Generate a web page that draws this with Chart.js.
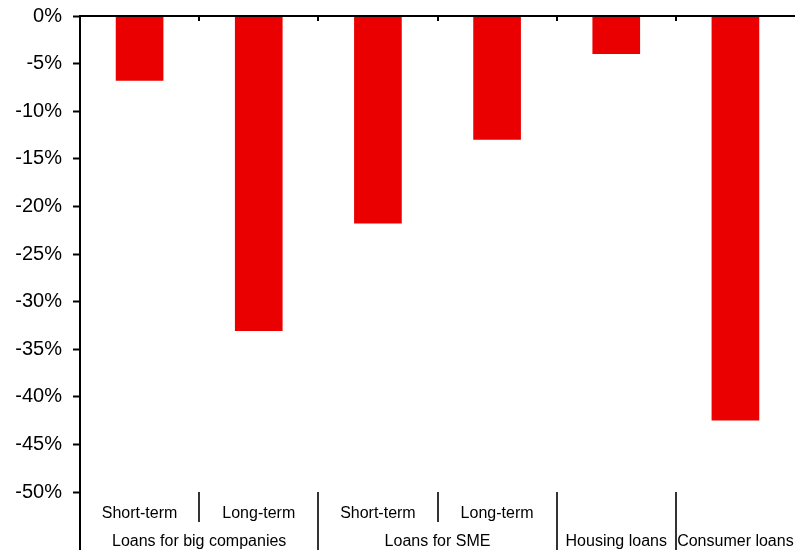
<!DOCTYPE html>
<html>
<head>
<meta charset="utf-8">
<script src="https://cdn.jsdelivr.net/npm/chart.js@4.4.1/dist/chart.umd.min.js"></script>
<style>
  html, body { margin: 0; padding: 0; background: #fff; }
  #wrap { width: 795px; height: 550px; }
</style>
</head>
<body>
<div id="wrap"><canvas id="c" width="795" height="550"></canvas></div>
<script>
// Loan categories: sub-label (term) and the loan group each bar belongs to
const subLabels = ['Short-term', 'Long-term', 'Short-term', 'Long-term', '', ''];
const groupLabels = ['Loans for big companies', 'Loans for big companies', 'Loans for SME', 'Loans for SME', 'Housing loans', 'Consumer loans'];
// Change in lending, percent
const changePct = [-6.8, -33.1, -21.8, -13.0, -4.0, -42.5];
// Y axis range and tick step, percent
const yMin = -50;
const yMax = 0;
const yStep = 5;

const FONT = 'Arial, "Liberation Sans", Helvetica, sans-serif';
Chart.defaults.font.family = FONT;
Chart.defaults.color = '#000';

// Draws the top baseline ticks and the two-row category axis below the plot
const groupedAxis = {
  id: 'groupedAxis',
  afterDraw(chart) {
    const { ctx, chartArea } = chart;
    const xs = chart.scales.x;
    const n = subLabels.length;
    const centers = subLabels.map((_, i) => xs.getPixelForValue(i));
    const half = (xs.getPixelForValue(1) - xs.getPixelForValue(0)) / 2;
    const edge = i => (i === 0 ? centers[0] - half : i === n ? centers[n - 1] + half : (centers[i - 1] + centers[i]) / 2);
    const bottom = chartArea.bottom;
    const H = chart.height;

    ctx.save();
    ctx.strokeStyle = '#000';
    ctx.lineWidth = 2;

    // zero line across the top of the plot
    ctx.beginPath();
    ctx.moveTo(chartArea.left, chartArea.top);
    ctx.lineTo(chart.width, chartArea.top);
    ctx.stroke();

    // small ticks under the zero line at category boundaries
    for (let i = 1; i < n; i++) {
      const x = Math.round(edge(i));
      ctx.beginPath();
      ctx.moveTo(x, chartArea.top);
      ctx.lineTo(x, chartArea.top + 5);
      ctx.stroke();
    }

    // left axis continues through the label rows
    ctx.beginPath();
    ctx.moveTo(chartArea.left, bottom);
    ctx.lineTo(chartArea.left, H);
    ctx.stroke();

    // separators: short between terms, long between groups
    ctx.lineWidth = 1.6;
    for (let i = 1; i < n; i++) {
      const x = Math.round(edge(i));
      const long = groupLabels[i] !== groupLabels[i - 1];
      ctx.beginPath();
      ctx.moveTo(x, bottom);
      ctx.lineTo(x, long ? H : bottom + 30);
      ctx.stroke();
    }

    ctx.fillStyle = '#000';
    ctx.font = '16px ' + FONT;
    ctx.textAlign = 'center';
    ctx.textBaseline = 'alphabetic';

    // term labels
    subLabels.forEach((s, i) => {
      if (s) ctx.fillText(s, centers[i], bottom + 26);
    });

    // group labels centred over their span
    let start = 0;
    for (let i = 1; i <= n; i++) {
      if (i === n || groupLabels[i] !== groupLabels[start]) {
        const cx = (edge(start) + edge(i)) / 2;
        ctx.fillText(groupLabels[start], cx, bottom + 54);
        start = i;
      }
    }
    ctx.restore();
  }
};

new Chart(document.getElementById('c'), {
  type: 'bar',
  data: {
    labels: subLabels.map((s, i) => s ? s + ' ' + groupLabels[i] : groupLabels[i]),
    datasets: [{
      data: changePct,
      backgroundColor: '#EA0000',
      borderWidth: 0,
      barPercentage: 0.4,
      categoryPercentage: 1.0
    }]
  },
  options: {
    responsive: false,
    animation: false,
    devicePixelRatio: 1,
    layout: { padding: { top: 16, bottom: 58, left: 0, right: 0 } },
    plugins: { legend: { display: false }, tooltip: { enabled: false } },
    scales: {
      x: {
        display: false,
        offset: true
      },
      y: {
        min: yMin,
        max: yMax,
        ticks: {
          stepSize: yStep,
          padding: 11,
          font: { size: 20 },
          color: '#000',
          callback: v => v + '%'
        },
        grid: {
          drawOnChartArea: false,
          drawTicks: true,
          tickLength: 7,
          tickColor: '#000',
          tickWidth: 2
        },
        border: { display: true, color: '#000', width: 2 },
        afterFit(s) {
          s.width = 80;
          s.paddingTop = 0;
          s.paddingBottom = 0;
        }
      }
    }
  },
  plugins: [groupedAxis]
});
</script>
</body>
</html>
